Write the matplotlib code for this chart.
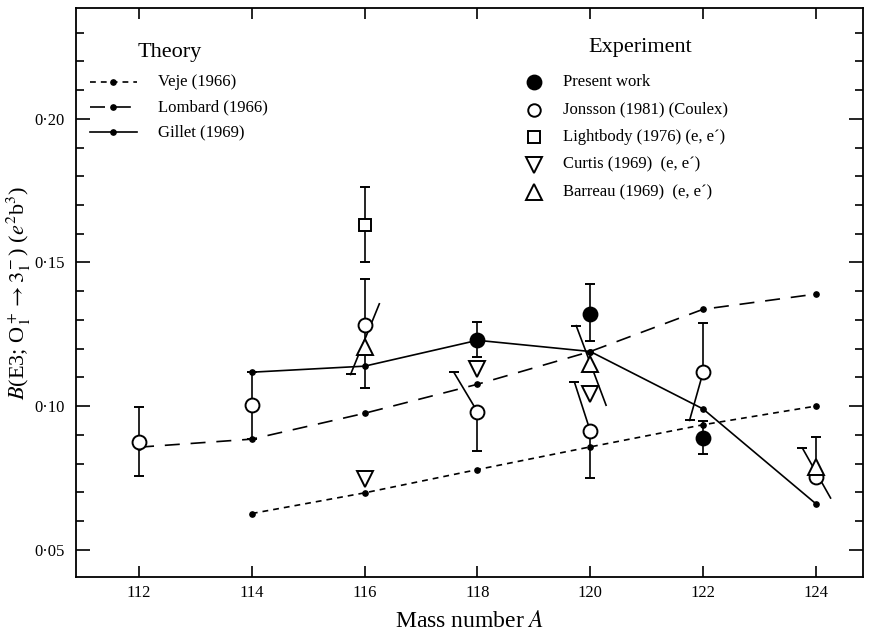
import matplotlib
matplotlib.use("Agg")
import matplotlib.pyplot as plt
from matplotlib.ticker import FuncFormatter, MultipleLocator

plt.rcParams["font.family"] = ["Liberation Serif", "DejaVu Serif"]
plt.rcParams["mathtext.fontset"] = "stix"

# theory curves
theory_a = [112, 114, 116, 118, 120, 122, 124]
veje_a = [114, 116, 118, 120, 122, 124]
veje_b = [0.0626, 0.0698, 0.0779, 0.0858, 0.0935, 0.1000]
lombard_b = [0.0857, 0.0885, 0.0975, 0.1076, 0.1190, 0.1337, 0.1390]
gillet_a = [114, 116, 118, 120, 122, 124]
gillet_b = [0.1118, 0.1139, 0.1229, 0.1190, 0.0990, 0.0660]

# experiment points: value, lower err, upper err (vertical parts only)
present_a = [118, 120, 122]
present_b = [0.1229, 0.1320, 0.0889]
present_lo = [0.0059, 0.0094, 0.0056]
present_hi = [0.0063, 0.0104, 0.0059]

jonsson_a = [112, 114, 116, 118, 120, 122, 124]
jonsson_b = [0.0875, 0.1005, 0.1281, 0.0980, 0.0913, 0.1118, 0.0753]
jonsson_lo = [0.0118, 0.0120, 0.0218, 0.0136, 0.0163, 0.0, 0.0]
jonsson_hi = [0.0122, 0.0113, 0.0163, 0.0, 0.0, 0.0170, 0.0139]

light_a = [116]
light_b = [0.1632]
light_lo = [0.0129]
light_hi = [0.0132]

curtis_a = [116, 118, 120]
curtis_b = [0.0745, 0.1128, 0.1042]

barreau_a = [116, 120, 124]
barreau_b = [0.1205, 0.1146, 0.0788]

# slanted error bars drawn beside crowded points: (x0, y0, x1, y1)
slant_bars = [
    (115.75, 0.1110, 116.26, 0.1356),
    (117.58, 0.1118, 118.0, 0.0980),
    (119.72, 0.1083, 120.0, 0.0913),
    (119.75, 0.1280, 120.28, 0.1003),
    (121.76, 0.0950, 122.0, 0.1118),
    (123.76, 0.0854, 124.26, 0.0680),
]

theory_labels = ["Veje (1966)", "Lombard (1966)", "Gillet (1969)"]
exp_labels = ["Present work", "Jonsson (1981) (Coulex)", "Lightbody (1976) (e, e´)",
              "Curtis (1969)  (e, e´)", "Barreau (1969)  (e, e´)"]

W, H = 872, 632
fig = plt.figure(figsize=(W / 100, H / 100), dpi=100, facecolor="white")
ax = fig.add_axes([0.087, 0.087, 0.903, 0.900])
AX_L, AX_B, AX_W, AX_H = 0.087 * W, 0.087 * H, 0.903 * W, 0.900 * H


def pos(px, py):
    # pixel position in the figure -> axes fraction (used for the key only)
    return (px - AX_L) / AX_W, (H - py - AX_B) / AX_H


lw = 1.2
veje_ls = (0, (3.5, 3))
lomb_ls = (0, (9, 6.5))
ax.plot(veje_a, veje_b, color="black", lw=lw, ls=veje_ls, marker="o", ms=3.8, zorder=2)
ax.plot(theory_a, lombard_b, color="black", lw=lw, ls=lomb_ls, marker="o", ms=3.8, zorder=2)
ax.plot(gillet_a, gillet_b, color="black", lw=lw, ls="-", marker="o", ms=3.8, zorder=2)

for x0, y0, x1, y1 in slant_bars:
    ax.plot([x0, x1], [y0, y1], color="black", lw=lw, zorder=3)
    ax.plot([x0], [y0], marker="_", ms=7, mew=1.4, color="black", zorder=3)

eb = dict(fmt="none", ecolor="black", elinewidth=lw, capsize=3.5, capthick=1.4, zorder=3)
ax.errorbar(jonsson_a, jonsson_b, yerr=[jonsson_lo, jonsson_hi], **eb)
ax.errorbar(present_a, present_b, yerr=[present_lo, present_hi], **eb)
ax.errorbar(light_a, light_b, yerr=[light_lo, light_hi], **eb)

mk = dict(ls="none", mec="black", mew=1.4, zorder=4)
ax.plot(jonsson_a, jonsson_b, marker="o", ms=10, mfc="white", **mk)
ax.plot(present_a, present_b, marker="o", ms=10, mfc="black", **mk)
ax.plot(light_a, light_b, marker="s", ms=8.5, mfc="white", **mk)
ax.plot(curtis_a, curtis_b, marker="v", ms=11, mfc="white", **mk)
ax.plot(barreau_a, barreau_b, marker="^", ms=11, mfc="white", **mk)

ax.set_xlim(110.88, 124.84)
ax.set_ylim(0.0405, 0.2385)
ax.set_xticks([112, 114, 116, 118, 120, 122, 124])
ax.yaxis.set_major_locator(MultipleLocator(0.05))
ax.yaxis.set_minor_locator(MultipleLocator(0.01))
ax.yaxis.set_major_formatter(FuncFormatter(lambda v, p: f"{v:.2f}".replace(".", "·")))
ax.tick_params(which="both", direction="in", top=True, right=True,
               width=1.2, labelsize=12)
ax.tick_params(axis="x", which="major", length=8, pad=6)
ax.tick_params(axis="y", which="major", length=10, pad=8)
ax.tick_params(axis="y", which="minor", length=6)
for s in ax.spines.values():
    s.set_linewidth(1.3)

ax.set_xlabel("Mass number $A$", fontsize=17)
ax.xaxis.set_label_coords(0.5, -0.06)
ax.set_ylabel(r"$B$(E3; O$_1^+\rightarrow 3_1^-$) ($e^2$b$^3$)", fontsize=16)
ax.yaxis.set_label_coords(-0.054, 0.5)

# key: Theory
tx, ty = pos(170, 52)
ax.text(tx, ty, "Theory", transform=ax.transAxes, fontsize=16, ha="center", va="center")
for i, (lab, ls) in enumerate(zip(theory_labels, [veje_ls, lomb_ls, "-"])):
    yy = 82 + 25 * i
    x0, y0 = pos(90, yy)
    x1, _ = pos(137, yy)
    xm, _ = pos(113, yy)
    ax.plot([x0, x1], [y0, y0], transform=ax.transAxes, color="black", lw=lw, ls=ls)
    ax.plot([xm], [y0], transform=ax.transAxes, color="black", marker="o", ms=3.8)
    xt, _ = pos(158, yy)
    ax.text(xt, y0, lab, transform=ax.transAxes, fontsize=12, va="center")

# key: Experiment
tx, ty = pos(640, 47)
ax.text(tx, ty, "Experiment", transform=ax.transAxes, fontsize=16, ha="center", va="center")
exp_marks = [("o", "black", 10), ("o", "white", 9), ("s", "white", 8),
             ("v", "white", 11), ("^", "white", 11)]
for i, (lab, (m, fc, ms)) in enumerate(zip(exp_labels, exp_marks)):
    yy = 82 + 27.5 * i
    xm, ym = pos(534, yy)
    ax.plot([xm], [ym], transform=ax.transAxes, ls="none", marker=m, ms=ms,
            mfc=fc, mec="black", mew=1.4)
    xt, _ = pos(563, yy)
    ax.text(xt, ym, lab, transform=ax.transAxes, fontsize=12, va="center")

fig.savefig("out.png", dpi=100, facecolor="white")
